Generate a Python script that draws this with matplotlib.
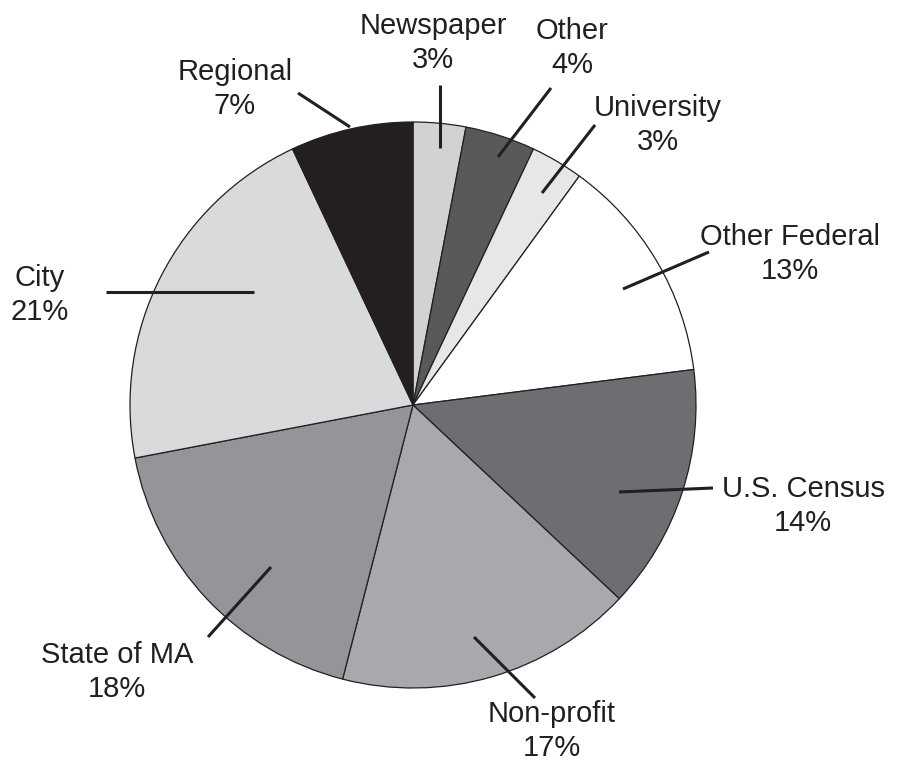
import matplotlib.pyplot as plt

plt.rcParams['font.family'] = ['Liberation Sans', 'DejaVu Sans']

# data (clockwise from 12 o'clock)
labels = ['Newspaper', 'Other', 'University', 'Other Federal', 'U.S. Census',
          'Non-profit', 'State of MA', 'City', 'Regional']
shares = [3, 4, 3, 13, 14, 17, 18, 21, 7]
colors = ['#d1d2d4', '#58595b', '#e6e7e8', '#ffffff', '#6d6e71',
          '#a7a9ac', '#939598', '#d9dadb', '#231f20']

# layout in pixels: leader line start, leader line end, text centre
CX, CY, R = 413, 405, 283
leaders = [
    ((440, 148), (440, 85), (433, 43)),
    ((498, 157), (551, 88), (572, 48)),
    ((542, 193), (595, 125), (658, 125)),
    ((623, 289), (709, 252), (790, 254)),
    ((619, 492), (713, 488), (803, 506)),
    ((474, 637), (535, 698), (552, 731)),
    ((271, 567), (208, 637), (117, 672)),
    ((254, 292), (106, 292), (40, 295)),
    ((350, 127), (298, 93), (235, 89)),
]


def px(p):
    return ((p[0] - CX) / R, (CY - p[1]) / R)


fig = plt.figure(figsize=(8.99, 7.64), dpi=100)
ax = fig.add_axes([0, 0, 1, 1])
ax.pie(shares, colors=colors, startangle=90, counterclock=False, radius=1,
       wedgeprops=dict(edgecolor='#231f20', linewidth=0.9))

for lab, val, (a, b, t) in zip(labels, shares, leaders):
    x0, y0 = px(a)
    x1, y1 = px(b)
    ax.plot([x0, x1], [y0, y1], color='#231f20', lw=2.2, solid_capstyle='butt')
    tx, ty = px(t)
    ax.text(tx, ty, f'{lab}\n{val}%', ha='center', va='center', fontsize=21,
            color='#231f20', linespacing=1.3)

ax.set_xlim(-CX / R, (899 - CX) / R)
ax.set_ylim((CY - 764) / R, CY / R)
ax.set_aspect('auto')
ax.axis('off')

fig.savefig('out.png', dpi=100)
